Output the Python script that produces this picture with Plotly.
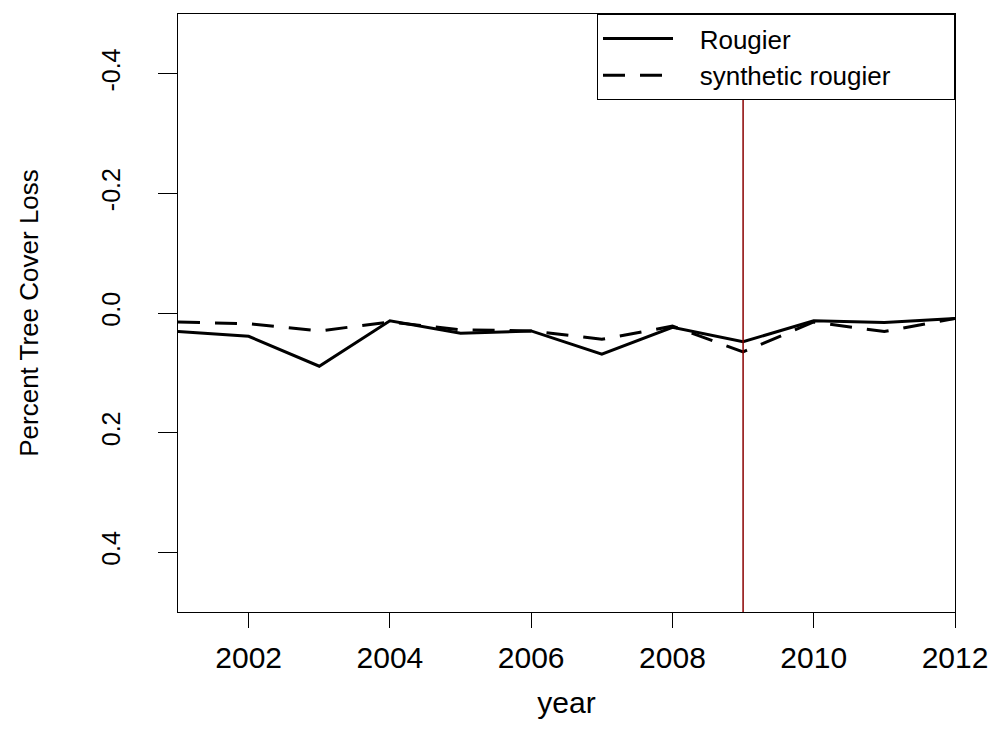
import plotly.graph_objects as go

years = [2001, 2002, 2003, 2004, 2005, 2006, 2007, 2008, 2009, 2010, 2011, 2012]
rougier = [0.031, 0.039, 0.089, 0.013, 0.034, 0.030, 0.069, 0.024, 0.048, 0.013, 0.016, 0.009]
synthetic = [0.015, 0.018, 0.030, 0.015, 0.028, 0.030, 0.044, 0.022, 0.065, 0.015, 0.031, 0.009]
treatment_year = 2009

series_names = ["Rougier", "synthetic rougier"]
x_ticks = [2002, 2004, 2006, 2008, 2010, 2012]
y_ticks = [-0.4, -0.2, 0.0, 0.2, 0.4]
y_tick_text = ["-0.4", "-0.2", "0.0", "0.2", "0.4"]

FONT = "Liberation Sans, Arial, sans-serif"
# non-breaking spaces give the legend the gap and width of the R legend box
LEAD = "\u00a0" * 3
TRAIL = "\u00a0" * 8

fig = go.Figure()
fig.add_trace(
    go.Scatter(
        x=years,
        y=rougier,
        mode="lines",
        name=LEAD + series_names[0],
        line={"color": "black", "width": 3},
    )
)
fig.add_trace(
    go.Scatter(
        x=years,
        y=synthetic,
        mode="lines",
        name=LEAD + series_names[1] + TRAIL,
        line={"color": "black", "width": 3, "dash": "22px,15px"},
    )
)
fig.add_vline(x=treatment_year, line={"color": "#8B0000", "width": 1.5})

# the page body adds an 8px offset, so margins are shifted to compensate
fig.update_layout(
    width=998,
    height=745,
    paper_bgcolor="white",
    plot_bgcolor="white",
    margin={"l": 170, "r": 51, "t": 6, "b": 141},
    font={"family": FONT, "color": "black", "size": 24},
    showlegend=True,
    legend={
        "x": 1,
        "y": 1,
        "xanchor": "right",
        "yanchor": "top",
        "bordercolor": "black",
        "borderwidth": 1,
        "bgcolor": "white",
        "font": {"size": 26},
        "itemwidth": 70,
        "tracegroupgap": 0,
    },
)
fig.update_xaxes(
    range=[2001, 2012],
    tickvals=x_ticks,
    ticks="outside",
    ticklen=15,
    tickcolor="black",
    tickfont={"size": 30},
    ticklabelstandoff=4,
    showline=True,
    linecolor="black",
    linewidth=1,
    mirror=True,
    showgrid=False,
    zeroline=False,
    title={"text": "year", "font": {"size": 30}, "standoff": 18},
)
fig.update_yaxes(
    range=[0.5, -0.5],
    tickvals=y_ticks,
    ticktext=y_tick_text,
    tickangle=-90,
    ticks="outside",
    ticklen=19,
    tickcolor="black",
    tickfont={"size": 25},
    ticklabelstandoff=28,
    showline=True,
    linecolor="black",
    linewidth=1,
    mirror=True,
    showgrid=False,
    zeroline=False,
    title={"text": "Percent Tree Cover Loss", "font": {"size": 26}, "standoff": 50},
)

fig.write_html("out.html")
